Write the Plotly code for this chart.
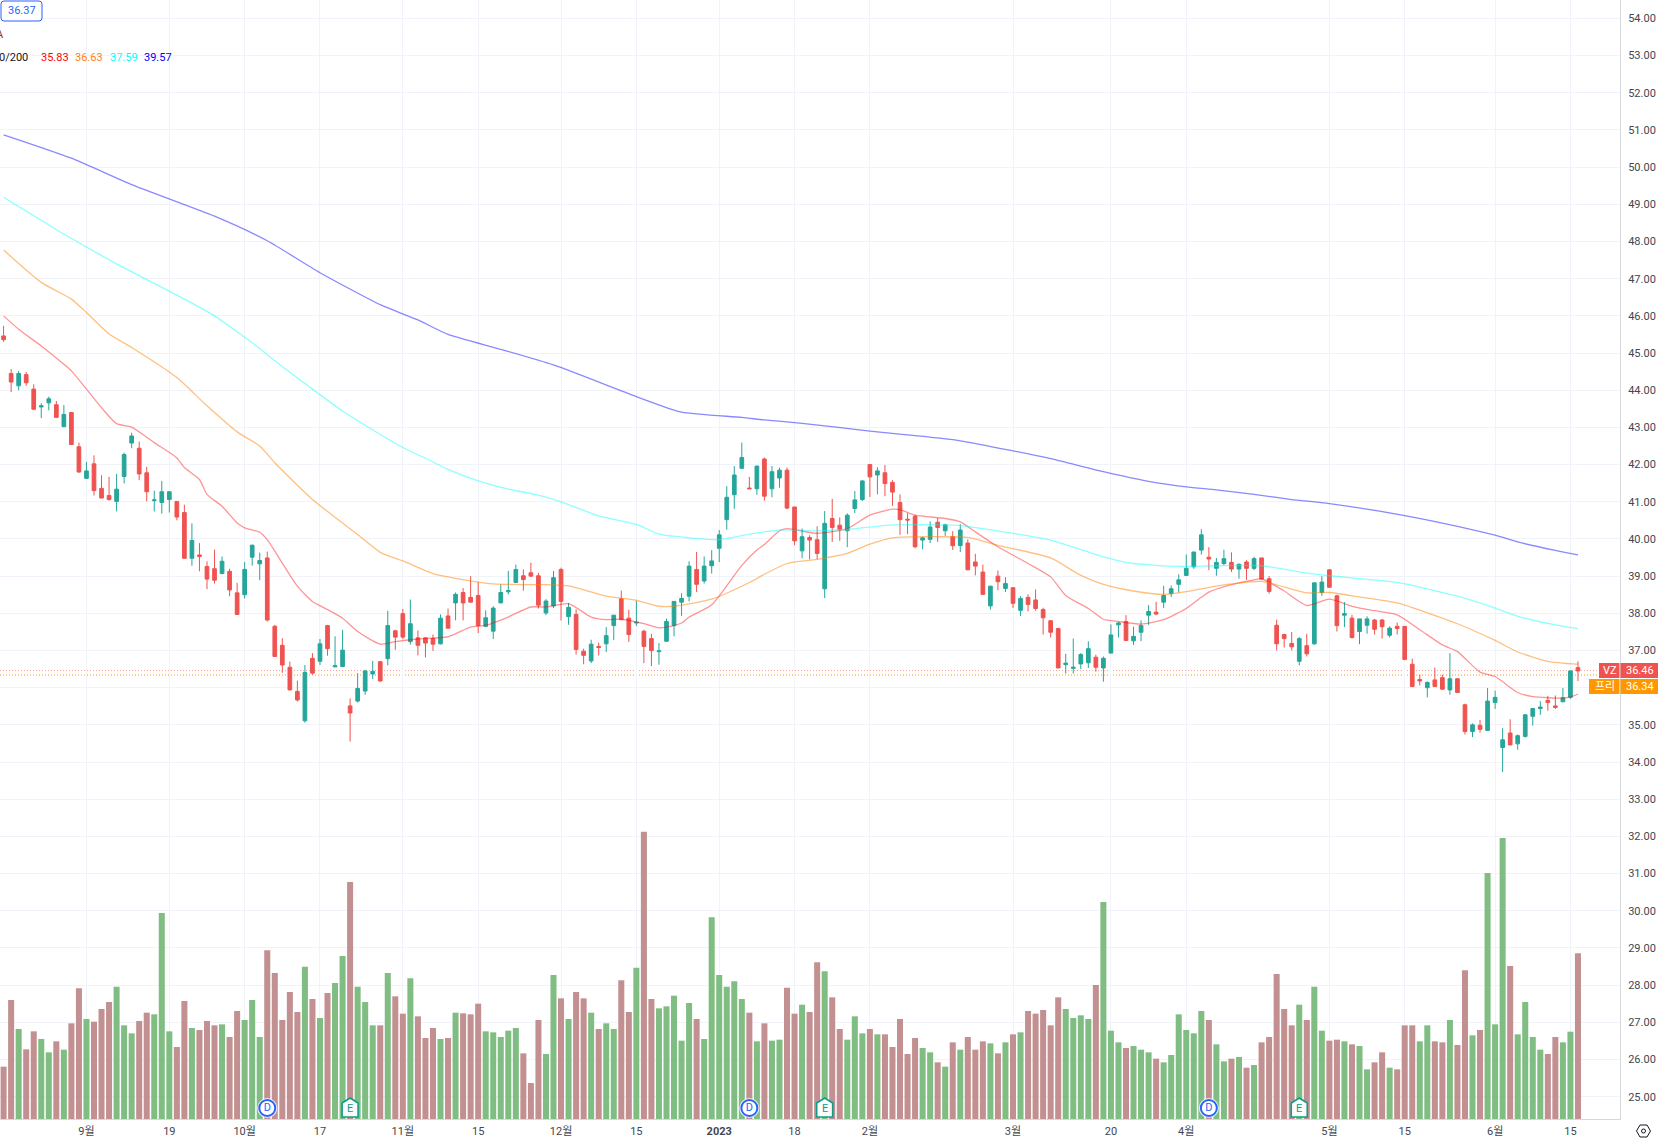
import plotly.graph_objects as go

opens = [45.46,44.45,44.12,44.42,44.03,43.55,43.66,43.61,43.02,43.40,42.48,41.63,42.02,41.36,41.17,41.01,41.68,42.58,42.44,41.78,
41.03,40.98,41.06,41.01,40.71,39.48,39.57,39.26,39.20,39.07,39.13,38.55,38.50,39.51,39.33,39.49,37.65,37.14,36.55,35.90,
35.11,36.79,36.71,37.67,36.56,36.57,35.51,35.64,35.91,36.37,36.70,36.78,37.53,37.99,37.24,37.34,37.34,37.32,37.18,37.93,
38.28,38.56,38.43,38.48,37.65,37.52,38.28,38.58,38.83,39.01,39.09,39.01,38.01,38.20,39.18,37.91,37.97,36.98,36.72,37.11,
37.18,37.67,38.39,37.87,37.74,37.52,37.32,36.97,37.25,37.67,38.30,38.46,39.18,38.87,39.28,39.75,40.52,41.19,41.90,41.37,
41.35,42.15,41.35,41.64,41.85,40.86,39.68,40.04,39.98,38.66,40.55,40.37,40.22,40.82,41.06,42.00,41.72,41.78,41.52,40.98,
40.53,40.61,39.97,39.99,40.45,40.22,40.06,39.82,39.89,39.38,39.11,38.20,39.00,38.67,38.69,38.08,38.43,38.36,38.10,37.80,
37.59,36.62,36.52,36.64,36.67,36.82,36.53,36.93,37.69,37.78,37.26,37.49,37.95,38.03,38.30,38.53,38.78,39.02,39.25,39.70,
39.51,39.21,39.34,39.37,39.19,39.38,39.21,39.49,38.93,37.68,37.43,37.19,36.71,37.13,37.18,38.56,39.17,38.47,37.95,37.87,
37.51,37.68,37.82,37.82,37.41,37.65,37.65,36.63,36.22,36.00,36.21,36.27,35.94,36.24,35.54,34.82,34.99,34.85,35.60,34.39,
34.78,34.49,34.69,35.23,35.44,35.66,35.51,35.62,35.74,36.54]
highs = [45.73,44.57,44.52,44.49,44.16,43.65,43.83,43.71,43.60,43.40,42.59,42.07,42.25,41.71,41.67,41.75,42.32,42.86,42.62,41.94,
41.30,41.56,41.27,41.01,40.92,40.42,39.89,39.40,39.71,39.53,39.20,38.82,39.38,39.85,39.63,39.66,37.69,37.33,36.70,36.19,
36.61,36.93,37.31,37.69,37.38,37.55,35.71,36.39,36.48,36.72,36.70,38.07,37.56,38.12,38.37,37.54,37.34,37.43,37.97,38.13,
38.56,38.68,39.00,38.84,38.08,38.19,38.78,39.14,39.31,39.18,39.36,39.09,38.38,39.14,39.23,38.28,38.11,37.05,37.29,37.21,
37.63,37.95,38.61,38.10,38.34,37.56,37.45,37.20,37.86,38.32,38.54,39.40,39.65,39.53,39.70,40.24,41.42,41.96,42.59,41.67,
41.97,42.19,41.96,41.92,41.92,40.86,40.28,40.10,40.34,40.75,41.08,40.58,40.69,41.29,41.58,42.00,41.93,41.99,41.58,41.20,
40.69,40.65,40.06,40.47,40.56,40.41,40.21,40.40,39.99,39.60,39.31,38.74,39.15,38.97,38.69,38.46,38.51,38.64,38.15,37.81,
37.61,36.91,37.32,36.93,37.25,36.89,36.84,37.70,37.77,37.95,37.64,37.81,38.22,38.31,38.74,38.75,39.05,39.58,39.65,40.26,
39.78,39.49,39.71,39.64,39.34,39.43,39.52,39.49,39.00,37.83,37.45,37.50,37.36,37.45,38.82,39.00,39.19,38.50,38.30,37.96,
37.85,37.92,37.85,37.85,37.65,37.75,37.65,36.78,36.35,36.17,36.54,36.35,36.93,36.26,35.57,35.04,35.13,35.99,35.92,34.91,
35.15,34.74,35.29,35.45,35.64,35.78,35.79,35.99,36.46,36.71]
lows = [45.30,43.95,44.00,44.12,43.46,43.25,43.46,43.25,43.02,42.54,41.78,41.63,41.17,41.10,41.03,40.74,41.49,42.44,41.58,41.01,
40.74,40.68,40.71,40.50,39.48,39.28,39.13,38.65,38.80,39.05,38.46,37.97,38.40,39.28,38.89,37.78,36.84,36.40,35.93,35.63,
35.06,36.35,36.61,36.86,36.56,36.57,34.55,35.60,35.81,36.23,36.16,36.60,37.02,37.31,37.16,36.87,36.81,36.99,37.16,37.59,
37.81,37.81,38.30,37.47,37.63,37.31,38.28,38.51,38.83,38.61,38.98,38.13,37.95,38.14,37.81,37.69,36.89,36.63,36.66,36.87,
36.96,37.28,37.83,37.23,37.66,36.66,36.58,36.62,37.23,37.38,37.93,38.32,38.57,38.80,39.07,39.38,40.25,40.81,41.89,41.34,
41.19,41.03,41.12,41.38,40.80,39.83,39.48,39.45,39.45,38.41,39.92,39.95,39.78,40.70,41.02,41.13,41.20,41.15,40.89,40.11,
40.13,39.75,39.72,39.89,39.92,40.08,39.70,39.65,39.16,39.02,38.51,38.10,38.62,38.57,38.14,37.93,38.05,38.07,37.43,37.35,
36.53,36.38,36.38,36.50,36.53,36.43,36.16,36.93,37.35,37.27,37.15,37.25,37.69,37.95,38.14,38.44,38.56,39.02,39.20,39.58,
39.16,39.01,39.29,39.11,38.93,38.90,39.16,38.92,38.53,37.00,37.08,37.00,36.60,36.84,37.15,38.47,38.70,37.51,37.63,37.32,
37.17,37.45,37.43,37.32,37.35,37.43,36.74,36.03,36.06,35.74,36.03,35.94,35.81,35.87,34.74,34.67,34.79,34.85,35.43,33.73,
34.46,34.33,34.66,34.98,35.27,35.38,35.43,35.62,35.70,36.18]
closes = [45.36,44.22,44.45,44.20,43.49,43.58,43.77,43.27,43.35,42.54,41.80,41.83,41.30,41.10,41.06,41.34,42.27,42.77,41.75,41.27,
41.05,41.27,41.27,40.59,39.48,39.96,39.53,38.92,38.89,39.40,38.63,37.97,39.18,39.83,39.42,37.82,36.84,36.61,35.94,35.67,
36.41,36.39,37.18,37.05,36.59,37.01,35.32,35.98,36.45,36.44,36.18,37.67,37.36,37.36,37.72,37.14,37.20,37.17,37.87,37.60,
38.51,38.28,38.30,37.67,37.88,38.14,38.56,38.61,39.18,38.91,39.00,38.22,38.33,38.96,38.32,38.16,37.03,36.87,37.17,37.08,
37.40,37.95,37.83,37.43,37.76,37.11,37.00,36.99,37.78,38.32,38.40,39.27,38.78,39.27,39.41,40.11,41.12,41.72,42.19,41.35,
41.96,41.15,41.81,41.85,40.83,39.95,40.06,39.97,39.61,40.42,40.31,40.26,40.64,41.05,41.56,41.67,41.83,41.49,41.26,40.52,
40.51,39.79,40.03,40.32,40.31,40.38,39.82,40.24,39.17,39.27,38.51,38.73,38.85,38.80,38.27,38.40,38.24,38.13,37.88,37.49,
36.53,36.66,36.55,36.89,37.05,36.55,36.79,37.42,37.74,37.27,37.38,37.67,38.05,37.98,38.48,38.66,38.90,39.21,39.65,40.11,
39.46,39.37,39.47,39.19,39.32,39.21,39.47,38.92,38.59,37.18,37.32,37.10,37.32,36.91,38.82,38.84,38.70,37.67,37.99,37.35,
37.85,37.85,37.57,37.64,37.60,37.59,36.76,36.03,36.18,36.14,36.03,35.96,36.24,35.87,34.82,35.00,34.88,35.64,35.74,34.60,
34.46,34.71,35.27,35.44,35.48,35.60,35.47,35.73,36.45,36.45]
volumes = [15.7,35.7,27.0,20.9,26.3,24.0,20.0,23.3,20.8,28.7,39.2,30.0,29.2,33.0,35.1,39.7,28.1,25.7,29.4,31.9,
31.4,61.8,26.3,21.6,35.4,27.3,26.7,29.4,28.1,28.4,24.6,32.4,29.7,35.7,24.6,50.6,43.8,29.7,38.1,32.1,
45.7,36.0,30.3,37.8,40.8,48.9,71.1,39.7,35.1,28.1,28.1,43.8,36.8,31.6,42.2,30.8,24.3,27.3,24.0,24.3,
31.9,31.7,31.4,34.6,26.3,26.0,24.6,26.5,27.3,19.7,10.8,29.7,19.5,43.2,36.2,30.0,38.1,36.2,31.9,27.0,
28.7,27.0,41.6,32.1,45.4,86.2,36.0,33.2,33.8,37.0,23.5,34.8,30.0,24.0,60.5,43.2,39.7,41.3,36.0,31.9,
23.3,28.7,23.5,23.8,39.4,31.6,34.3,32.1,47.0,44.3,36.5,27.0,23.8,30.8,25.7,27.0,25.4,25.4,21.6,30.0,
19.5,24.3,21.3,20.0,17.0,15.7,23.0,20.8,24.6,20.8,23.3,22.7,19.7,23.0,25.4,26.0,32.4,31.6,32.7,28.1,
36.5,33.0,30.3,31.1,30.0,40.2,65.1,26.5,23.0,21.3,21.9,20.8,20.0,18.1,17.0,19.2,31.4,26.7,25.7,32.4,
29.7,22.4,17.3,18.1,18.6,15.4,16.2,23.0,24.6,43.5,33.0,28.1,34.3,29.7,39.7,26.5,23.5,23.8,23.3,22.4,
21.9,14.9,17.0,20.0,15.4,14.9,28.1,28.1,23.3,28.1,23.3,23.0,29.7,22.2,44.6,25.1,26.7,73.8,28.4,84.3,
45.9,25.4,35.1,24.6,20.8,19.5,24.6,23.0,26.2,49.7]
volume_dirs = ("RRGRRGGRGR" "RGRRRGGGRR" "GGGRRGRRRG" "RRGGGRRRRR" "GRGRGGRGGG" "RGRRGRRRGR" "GRRRGGGGGR"
               "RRGGRGRRGR" "GGRRGRRGGG" "GGRGGGGGGR" "GRGGRRGRRG" "RRGGGRGRRR" "RRGGRGRGRR" "RGRGRGRRRR"
               "RGGGGRGGGR" "GGGRGGGGGG" "RGGRGRGRRR" "RRGRGGRRGR" "GGRRGRRRGG" "RRGRRGRGGG" "RGGGGRRGGR")

ma20_x = [0,2,5,8,9,11,13,15,17,20,23,24,26,27,29,31,32,34,35,37,39,41,43,45,47,50,52,55,59,62,64,67,70,72,75,78,80,82,85,87,88,90,91,94,98,100,101,103,104,108,112,115,118,119,121,125,127,129,132,136,139,141,144,146,148,151,154,157,159,160,163,166,167,170,173,176,179,182,185,188,191,193,196,198,201,203,207,208,209]
ma20_y = [46.00,45.64,45.19,44.70,44.52,44.03,43.53,43.10,43.01,42.59,42.18,41.92,41.60,41.20,40.88,40.43,40.30,40.18,39.98,39.35,38.73,38.32,38.10,37.87,37.51,37.17,37.24,37.31,37.37,37.63,37.68,37.90,38.17,38.17,38.26,37.90,37.83,37.84,37.72,37.61,37.63,37.74,37.90,38.23,39.29,39.70,39.85,40.22,40.28,40.15,40.28,40.64,40.80,40.79,40.64,40.55,40.46,40.19,39.79,39.34,38.98,38.48,38.13,37.84,37.78,37.71,37.83,38.13,38.43,38.57,38.77,38.90,38.93,38.60,38.21,38.38,38.19,38.07,37.96,37.56,37.15,36.97,36.42,36.30,35.87,35.76,35.72,35.75,35.83]
ma50_x = [0,5,9,11,14,17,23,27,31,34,36,41,45,47,50,53,57,59,65,72,75,80,84,87,89,94,99,101,104,108,112,115,118,125,128,132,139,143,146,150,154,158,159,163,167,173,176,180,185,193,198,201,205,209]
ma50_y = [47.77,46.90,46.45,46.09,45.51,45.15,44.34,43.58,42.88,42.50,42.05,41.06,40.43,40.12,39.64,39.41,39.07,38.98,38.79,38.77,38.74,38.46,38.35,38.19,38.19,38.38,38.83,39.05,39.34,39.45,39.61,39.86,40.03,40.06,40.04,39.83,39.49,39.02,38.78,38.60,38.51,38.62,38.66,38.79,38.86,38.55,38.56,38.44,38.28,37.72,37.27,36.96,36.71,36.63]
ma100_x = [0,8,15,24,28,34,36,41,45,50,53,56,59,63,67,71,74,79,84,87,91,95,99,103,108,112,118,127,134,139,146,150,156,161,167,173,176,185,193,198,201,206,209]
ma100_y = [49.19,48.20,47.40,46.45,46.00,45.12,44.79,44.03,43.44,42.81,42.46,42.17,41.87,41.56,41.34,41.18,41.00,40.62,40.39,40.13,40.03,39.98,40.13,40.24,40.22,40.26,40.38,40.36,40.15,39.97,39.52,39.34,39.26,39.28,39.28,39.08,39.01,38.83,38.46,38.14,37.92,37.69,37.59]
ma200_x = [0,9,17,28,35,42,50,55,59,66,73,84,90,98,101,106,115,121,127,134,139,146,152,157,161,166,171,176,186,193,198,201,206,209]
ma200_y = [50.87,50.24,49.53,48.68,48.02,47.16,46.30,45.89,45.50,45.10,44.68,43.83,43.41,43.27,43.20,43.11,42.90,42.78,42.64,42.37,42.16,41.81,41.55,41.40,41.32,41.20,41.06,40.95,40.63,40.34,40.10,39.92,39.69,39.57]

price_ticks = list(range(25, 55))
time_tick_pos = [11,22,32,42,53,63,74,84,95,105,115,134,147,157,176,186,198,208]
time_tick_text = ["9월","19","10월","17","11월","15","12월","15","<b>2023</b>","18","2월","3월","20","4월","5월","15","6월","15"]
dividend_bars = [35,99,160]
earnings_bars = [46,109,172]
last_price = 36.46
pre_price = 36.34
quote_box_text = "36.37"
legend_values = ["35.83","36.63","37.59","39.57"]

W, H = 1662, 1142
PW, PH = 1620, 1119
FONT = "Roboto, 'Noto Sans CJK KR', sans-serif"
TXT = "#131722"
px = lambda v: v / PW
py = lambda v: 1 - v / PH
ymin, ymax = 24.40, 54.495
y2max = 335.7
marker_price = ymin + (PH - 1108) / PH * (ymax - ymin)
marker_vol = (PH - 1108) / PH * y2max
xs = list(range(len(closes)))

fig = go.Figure()
fig.add_trace(go.Bar(x=xs, y=volumes, yaxis="y2", width=0.8,
                     marker=dict(color=["#80bd82" if d == "G" else "#c29090" for d in volume_dirs],
                                 line=dict(width=0)), hoverinfo="skip"))
fig.add_trace(go.Candlestick(x=xs, open=opens, high=highs, low=lows, close=closes, whiskerwidth=0,
                             increasing=dict(line=dict(color="#26a69a", width=1), fillcolor="#26a69a"),
                             decreasing=dict(line=dict(color="#ef5350", width=1), fillcolor="#ef5350")))
for mx, my, col in [(ma20_x, ma20_y, "rgba(255,0,0,0.42)"), (ma50_x, ma50_y, "rgba(255,130,0,0.5)"),
                    (ma100_x, ma100_y, "rgba(0,255,255,0.45)"), (ma200_x, ma200_y, "rgba(40,40,255,0.55)")]:
    fig.add_trace(go.Scatter(x=mx, y=my, mode="lines", line=dict(color=col, width=1.3, shape="spline", smoothing=0.6),
                             hoverinfo="skip"))

# dividend markers sit over the volume bars
fig.add_trace(go.Scatter(x=dividend_bars, y=[marker_vol]*3, yaxis="y2", mode="markers", hoverinfo="skip",
                         marker=dict(size=20, color="rgba(255,255,255,0.8)", line=dict(width=0))))
fig.add_trace(go.Scatter(x=dividend_bars, y=[marker_vol]*3, yaxis="y2", mode="markers+text", text=["D"]*3,
                         textposition="middle center", textfont=dict(family=FONT, size=11, color="#2962ff"),
                         marker=dict(size=16, color="white", line=dict(color="#2962ff", width=2)), hoverinfo="skip"))

shapes = []
for v, c in [(last_price, "rgba(239,83,80,0.55)"), (pre_price, "#ff9800")]:
    shapes.append(dict(type="line", xref="paper", yref="y", x0=0, x1=1, y0=v, y1=v, layer="below",
                       line=dict(color=c, width=1, dash="1px,2px")))
for b in earnings_bars:
    shapes.append(dict(type="path", xref="x", yref="y", xsizemode="pixel", ysizemode="pixel",
                       xanchor=b, yanchor=marker_price, layer="above",
                       path="M -8,-9 L 8,-9 L 8,5 L 0,10 L -8,5 Z",
                       fillcolor="rgba(255,255,255,0.95)", line=dict(color="#0f9d8a", width=1.6)))
# quote box and badges
shapes.append(dict(type="path", xref="paper", yref="paper",
                   path=f"M {px(4)},{py(1)} L {px(39)},{py(1)} Q {px(42)},{py(1)} {px(42)},{py(4)} L {px(42)},{py(18)} "
                        f"Q {px(42)},{py(21)} {px(39)},{py(21)} L {px(4)},{py(21)} Q {px(1)},{py(21)} {px(1)},{py(18)} "
                        f"L {px(1)},{py(4)} Q {px(1)},{py(1)} {px(4)},{py(1)} Z",
                   line=dict(color="#2962ff", width=1), fillcolor="white"))
for x0, x1, y0, y1, c in [(1599, 1619.5, 663, 678, "#ef5350"), (1620.5, 1658, 663, 678, "#ef5350"),
                          (1589, 1619.5, 679, 694, "#ff9800"), (1620.5, 1658, 679, 694, "#ff9800")]:
    shapes.append(dict(type="rect", xref="paper", yref="paper", x0=px(x0), x1=px(x1), y0=py(y0), y1=py(y1),
                       fillcolor=c, line=dict(width=0), layer="above"))
# settings icon
cx, cy, r = 1643.5, 1131, 7
shapes.append(dict(type="path", xref="paper", yref="paper",
                   path=f"M {px(cx-r)},{py(cy)} L {px(cx-r/2)},{py(cy-6)} L {px(cx+r/2)},{py(cy-6)} L {px(cx+r)},{py(cy)}"
                        f" L {px(cx+r/2)},{py(cy+6)} L {px(cx-r/2)},{py(cy+6)} Z",
                   line=dict(color="#131722", width=1), fillcolor="white"))
shapes.append(dict(type="circle", xref="paper", yref="paper", x0=px(cx-2), x1=px(cx+2), y0=py(cy-2), y1=py(cy+2),
                   line=dict(color="#131722", width=1), fillcolor="white"))

def label(x, y, text, color=TXT, size=11, anchor="left"):
    return dict(xref="paper", yref="paper", x=px(x), y=py(y), text=text, showarrow=False, xanchor=anchor,
                yanchor="middle", borderpad=0, font=dict(family=FONT, size=size, color=color))

annotations = [label(21.5, 11, quote_box_text, "#2962ff", 11, "center"),
               label(5, 35, "A", "#8e2f2f", 11, "right"),
               label(28.5, 57, "0/200", TXT, 11, "right")]
for x, t, c in zip([40, 74, 109, 143], legend_values, ["#ff0000", "#ff7f0e", "#00ffff", "#0000ff"]):
    annotations.append(label(x, 57, t, c, 11))
for x, y, t in [(1609.5, 670.5, "VZ"), (1639.5, 670.5, f"{last_price:.2f}"),
                (1604.5, 686.5, "프리"), (1639.5, 686.5, f"{pre_price:.2f}")]:
    annotations.append(label(x, y, t, "white", 11, "center"))
for b in earnings_bars:
    annotations.append(dict(xref="x", yref="y", x=b, y=marker_price, text="E", showarrow=False, borderpad=0,
                            font=dict(family=FONT, size=11, color="#0f9d8a")))

fig.update_layout(
    width=W, height=H, margin=dict(l=0, r=W - PW, t=0, b=H - PH), showlegend=False,
    paper_bgcolor="white", plot_bgcolor="white", bargap=0.2, shapes=shapes, annotations=annotations,
    font=dict(family=FONT, size=11, color=TXT),
    xaxis=dict(range=[-0.478, 214.58], rangeslider=dict(visible=False), tickmode="array", tickvals=time_tick_pos,
               ticktext=time_tick_text, showgrid=True, gridcolor="#f0f3fa", gridwidth=1, zeroline=False,
               showline=True, linecolor="#d6d8de", linewidth=1, ticks="", ticklabelstandoff=2,
               tickfont=dict(family=FONT, size=11, color="#434651")),
    yaxis=dict(range=[ymin, ymax], side="right", tickmode="array", tickvals=price_ticks,
               ticktext=[f"{v:.2f}" for v in price_ticks], showgrid=True, gridcolor="#f0f3fa", gridwidth=1,
               zeroline=False, showline=True, linecolor="#d6d8de", linewidth=1, ticks="", ticklabelstandoff=5,
               tickfont=dict(family=FONT, size=11, color="#434651")),
    yaxis2=dict(range=[0, y2max], overlaying="y", side="right", visible=False),
)
fig.write_html("out.html", config={"displayModeBar": False},
               post_script="document.body.style.margin='0';document.body.style.overflow='hidden';")
